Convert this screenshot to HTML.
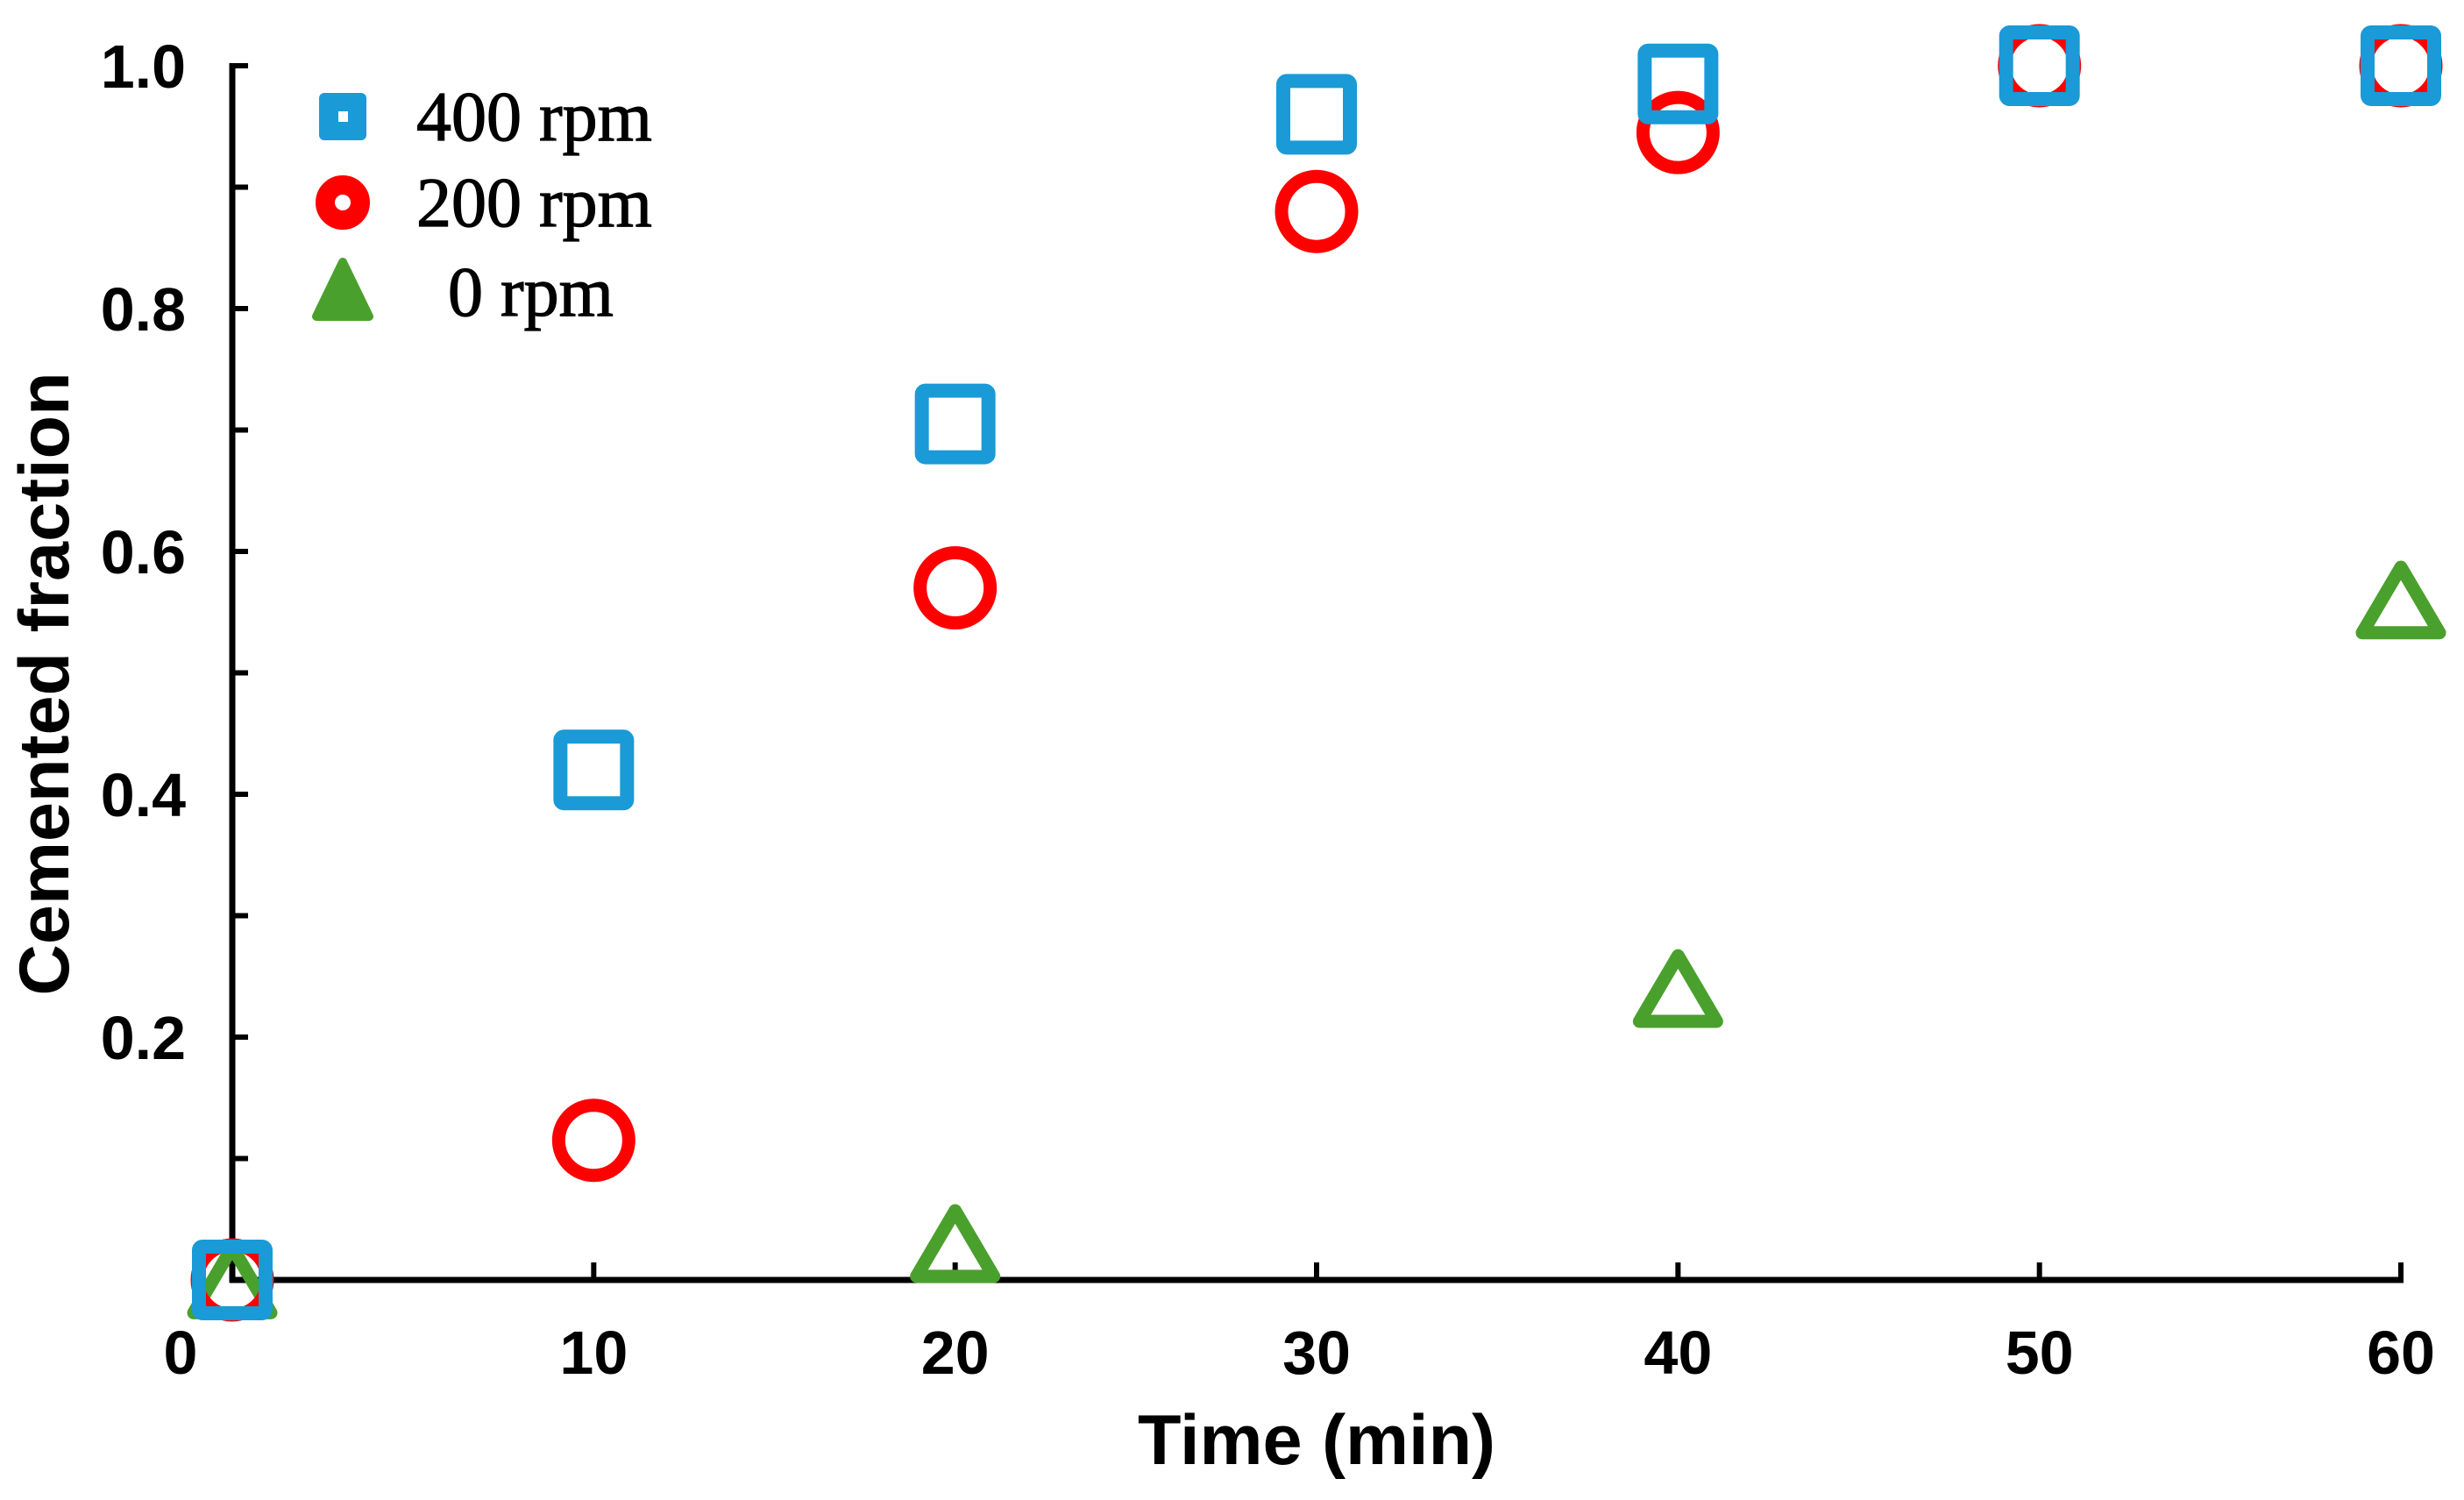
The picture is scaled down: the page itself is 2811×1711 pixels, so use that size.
<!DOCTYPE html>
<html><head><meta charset="utf-8"><style>
html,body{margin:0;padding:0;background:#fff;}
svg{display:block;}
.tick{font-family:"Liberation Sans",sans-serif;font-weight:bold;font-size:70px;fill:#000;}
.title{font-family:"Liberation Sans",sans-serif;font-weight:bold;font-size:81px;fill:#000;}
.leg{font-family:"Liberation Serif",serif;font-size:80px;fill:#000;stroke:#000;stroke-width:1.2px;}
</style></head><body>
<svg id="chart" width="2811" height="1711" viewBox="0 0 2811 1711"></svg>
<script>
const times = [0, 10, 20, 30, 40, 50, 60];
const rpm400 = [0, 0.42, 0.705, 0.96, 0.985, 1.0, 1.0];
const rpm200 = [0, 0.115, 0.57, 0.88, 0.945, 1.0, 1.0];
const times0 = [0, 20, 40, 60];
const rpm0 = [0, 0.03, 0.24, 0.56];
const xTicks = [0, 10, 20, 30, 40, 50, 60];
const yTickLabels = [0.2, 0.4, 0.6, 0.8, 1.0];
const yMinorTicks = [0.1, 0.3, 0.5, 0.7, 0.9];

const NS = "http://www.w3.org/2000/svg";
const svg = document.getElementById('chart');
const X0 = 265, X1 = 2739, Y0 = 1460, Y1 = 75;
function xs(v){ return X0 + (v - 0) / 60 * (X1 - X0); }
function ys(v){ return Y0 - v * (Y0 - Y1); }
function mk(tag, attrs, parent){
  const e = document.createElementNS(NS, tag);
  for (const k in attrs) e.setAttribute(k, attrs[k]);
  (parent || svg).appendChild(e);
  return e;
}

let el = mk('line', {x1:X0, y1:Y1-3, x2:X0, y2:Y0+3, stroke:'#000', 'stroke-width':7});


el = mk('line', {x1:X0-3, y1:Y0, x2:X1+3, y2:Y0, stroke:'#000', 'stroke-width':7});



[...yTickLabels, ...yMinorTicks].forEach(v => {
  const t = mk('line', {x1:X0, y1:ys(v), x2:X0+18, y2:ys(v), stroke:'#000', 'stroke-width':6});
  
  
});
yTickLabels.forEach(v => {
  const t = mk('text', {x:212, y:ys(v)+25, 'text-anchor':'end', class:'tick'});
  t.textContent = v.toFixed(1);
  
  
});
xTicks.forEach(v => {
  const t = mk('line', {x1:xs(v), y1:Y0, x2:xs(v), y2:Y0-20, stroke:'#000', 'stroke-width':6});
  
  
  const lx = v === 0 ? 206 : xs(v);
  const l = mk('text', {x:lx, y:1567, 'text-anchor':'middle', class:'tick'});
  l.textContent = v;
  
  
});
el = mk('text', {x:1502, y:1670, 'text-anchor':'middle', class:'title'});
el.textContent = 'Time (min)';


el = mk('text', {x:0, y:0, 'text-anchor':'middle', class:'title', transform:'translate(78,780) rotate(-90)'});
el.textContent = 'Cemented fraction';



const BLUE = '#1a9ad6', RED = '#ff0000', GREEN = '#4aa02c';
function square(cx, cy, s, sw){ return mk('rect', {x:cx-s/2, y:cy-s/2, width:s, height:s, fill:'none', stroke:BLUE, 'stroke-width':sw, rx:4}); }
function circle(cx, cy, r, sw){ return mk('circle', {cx:cx, cy:cy, r:r, fill:'none', stroke:RED, 'stroke-width':sw}); }
function tri(cx, cy, w, sw){
  const h = w*0.85;
  return mk('polygon', {points:`${cx},${cy-h/2} ${cx+w/2},${cy+h/2} ${cx-w/2},${cy+h/2}`, fill:'none', stroke:GREEN, 'stroke-width':sw, 'stroke-linejoin':'round'});
}

times0.forEach((t,i) => {
  const m = tri(xs(t), ys(rpm0[i]), 88, 15);
  
  
});
times.forEach((t,i) => {
  const m = circle(xs(t), ys(rpm200[i]), 40, 15);
  
  
});
times.forEach((t,i) => {
  const m = square(xs(t), ys(rpm400[i]), 76, 16);
  
  
});

const legY = [133, 231, 333];
el = mk('rect', {x:391-27, y:legY[0]-27, width:54, height:54, fill:BLUE, rx:6});


el = mk('rect', {x:386, y:legY[0]-6, width:11, height:12, fill:'#fff'});


el = circle(391, legY[1], 20, 22);


el = mk('polygon', {points:`391,${legY[2]-34} 421,${legY[2]+28} 361,${legY[2]+28}`, fill:GREEN, stroke:GREEN, 'stroke-width':10, 'stroke-linejoin':'round'});


const legText = ['400 rpm', '200 rpm', '0 rpm'];
const legX = [475, 475, 511];
legText.forEach((s,i) => {
  const t = mk('text', {x:legX[i], y:legY[i]+27, class:'leg'});
  t.textContent = s;
  
  
});
</script>
</body></html>
